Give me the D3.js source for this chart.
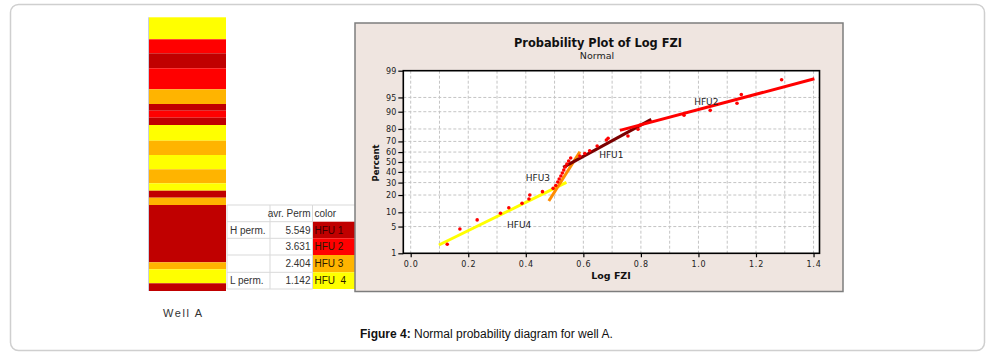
<!DOCTYPE html>
<html>
<head>
<meta charset="utf-8">
<script src="https://cdn.jsdelivr.net/npm/d3@7"></script>
<style>
  html, body { margin: 0; padding: 0; background: #fff; }
  svg { display: block; }
</style>
</head>
<body>
<svg id="chart" width="993" height="358"></svg>
<script>
// ---------------- DATA ----------------
// Well A column: HFU code of each band and band bottom depth (relative units)
const bandHFU    = [4, 2, 1, 2, 3, 1, 2, 1, 4, 3, 4, 3, 4, 1, 3, 1, 3, 4, 1];
const bandBottom = [22, 36, 51, 72, 86.7, 93.4, 100.4, 107.7, 123.4, 137.7, 152, 166, 173.4, 180.4, 187.7, 245, 252, 266, 273.7];

// Table
const tableHeader = ["", "avr. Perm", "color"];
const tableRowLabel = ["H perm.", "", "", "L perm."];
const tablePerm = ["5.549", "3.631", "2.404", "1.142"];
const tableHFU = ["HFU 1", "HFU 2", "HFU 3", "HFU  4"];

// Probability plot points (Log FZI, Percent)
const hfu4X = [0.127, 0.171, 0.231, 0.312, 0.341, 0.387, 0.411, 0.414, 0.458, 0.495];
const hfu4P = [1.8, 4.4, 7.0, 9.6, 12.2, 14.6, 17.3, 20.0, 22.5, 25.1];
const hfu3X = [0.504, 0.511, 0.516, 0.522, 0.527, 0.532, 0.537, 0.543, 0.549, 0.556];
const hfu3P = [27.5, 30.5, 33.2, 36.1, 39.0, 41.9, 44.9, 48.0, 51.0, 54.1];
const hfu1X = [0.588, 0.605, 0.622, 0.648, 0.680, 0.686, 0.755, 0.790, 0.796];
const hfu1P = [56.0, 58.5, 61.3, 65.8, 71.2, 72.7, 74.6, 79.8, 82.5];
const hfu2X = [0.950, 1.041, 1.134, 1.149, 1.289];
const hfu2P = [88.3, 90.6, 93.3, 95.7, 98.2];

// Fitted lines: [x0, x1], [p0, p1]
const lineNames = ["HFU4", "HFU3", "HFU1", "HFU2"];
const lineX = [[0.098, 0.541], [0.480, 0.588], [0.530, 0.836], [0.727, 1.403]];
const lineP = [[1.72, 30.2], [16.0, 60.3], [44.6, 86.1], [79.0, 98.3]];

// Labels of the fitted groups: [Log FZI, Percent]
const groupLabels = ["HFU2", "HFU1", "HFU3", "HFU4"];
const groupLabelX = [0.985, 0.655, 0.40, 0.335];
const groupLabelP = [92.7, 54.5, 31.0, 4.6];

// Axis ticks
const xTicks = [0.0, 0.2, 0.4, 0.6, 0.8, 1.0, 1.2, 1.4];
const xGrid = d3.range(0, 15).map(i => i / 10);
const pTicks = [1, 5, 10, 20, 30, 40, 50, 60, 70, 80, 90, 95, 99];
const pGrid = [5, 10, 20, 30, 40, 50, 60, 70, 80, 90, 95];

// ---------------- HELPERS ----------------
// inverse standard normal CDF (Acklam)
function probit(p) {
  const a = [-3.969683028665376e+01, 2.209460984245205e+02, -2.759285104469687e+02, 1.383577518672690e+02, -3.066479806614716e+01, 2.506628277459239e+00];
  const b = [-5.447609879822406e+01, 1.615858368580409e+02, -1.556989798598866e+02, 6.680131188771972e+01, -1.328068155288572e+01];
  const c = [-7.784894002430293e-03, -3.223964580411365e-01, -2.400758277161838e+00, -2.549732539343734e+00, 4.374664141464968e+00, 2.938163982698783e+00];
  const d = [7.784695709041462e-03, 3.224671290700398e-01, 2.445134137142996e+00, 3.754408661907416e+00];
  const pl = 0.02425, ph = 1 - pl;
  let q, r;
  if (p < pl) {
    q = Math.sqrt(-2 * Math.log(p));
    return (((((c[0]*q+c[1])*q+c[2])*q+c[3])*q+c[4])*q+c[5]) / ((((d[0]*q+d[1])*q+d[2])*q+d[3])*q+1);
  } else if (p <= ph) {
    q = p - 0.5; r = q * q;
    return (((((a[0]*r+a[1])*r+a[2])*r+a[3])*r+a[4])*r+a[5])*q / (((((b[0]*r+b[1])*r+b[2])*r+b[3])*r+b[4])*r+1);
  } else {
    q = Math.sqrt(-2 * Math.log(1 - p));
    return -(((((c[0]*q+c[1])*q+c[2])*q+c[3])*q+c[4])*q+c[5]) / ((((d[0]*q+d[1])*q+d[2])*q+d[3])*q+1);
  }
}

const svg = d3.select("#chart");

// outer frame
svg.append("rect").attr("x", 10.5).attr("y", 4.5).attr("width", 974).attr("height", 346)
  .attr("rx", 8).attr("fill", "#fff").attr("stroke", "#cfcfcf").attr("stroke-width", 1.5);

// ---------------- WELL COLUMN ----------------
const hfuColor = {1: "#c00000", 2: "#ff0000", 3: "#ffb400", 4: "#ffff00"};
const depth = d3.scaleLinear().domain([0, 273.7]).range([17.3, 291]);
const bandTop = [0].concat(bandBottom.slice(0, -1));
svg.append("g").selectAll("rect").data(bandHFU).join("rect")
  .attr("x", 149).attr("width", 77)
  .attr("y", (d, i) => depth(bandTop[i]))
  .attr("height", (d, i) => depth(bandBottom[i]) - depth(bandTop[i]))
  .attr("fill", d => hfuColor[d]);
svg.append("line").attr("x1", 148.5).attr("x2", 148.5).attr("y1", depth(0)).attr("y2", depth(273.7))
  .attr("stroke", "#c9cfe0").attr("stroke-width", 1);

svg.append("text").attr("x", 163).attr("y", 317)
  .attr("font-family", "Liberation Sans, Arial, sans-serif").attr("font-size", 11)
  .attr("letter-spacing", 1.6).attr("fill", "#333").text("Well A");

// ---------------- TABLE ----------------
const tbl = svg.append("g");
const colX = [227, 270, 312.5, 355];
const rowY = [205, 221.7, 238.3, 255, 272.3, 289];
tbl.append("rect").attr("x", colX[0]).attr("y", rowY[0]).attr("width", colX[3] - colX[0]).attr("height", rowY[5] - rowY[0]).attr("fill", "#fff");
tbl.selectAll("rect.c").data(tableHFU).join("rect").attr("class", "c")
  .attr("x", colX[2]).attr("y", (d, i) => rowY[i + 1])
  .attr("width", colX[3] - colX[2]).attr("height", (d, i) => rowY[i + 2] - rowY[i + 1])
  .attr("fill", (d, i) => hfuColor[i + 1]);
tbl.selectAll("line.h").data(rowY).join("line").attr("class", "h")
  .attr("x1", colX[0]).attr("x2", colX[2]).attr("y1", d => d).attr("y2", d => d)
  .attr("stroke", "#d9d9d9").attr("stroke-width", 1);
tbl.append("line").attr("x1", colX[2]).attr("x2", colX[3]).attr("y1", rowY[0]).attr("y2", rowY[0]).attr("stroke", "#d9d9d9");
tbl.selectAll("line.v").data(colX.slice(0, 3)).join("line").attr("class", "v")
  .attr("x1", d => d).attr("x2", d => d).attr("y1", rowY[0]).attr("y2", rowY[5])
  .attr("stroke", "#d9d9d9").attr("stroke-width", 1);
const tf = "Liberation Sans Narrow, Arial Narrow, Liberation Sans, sans-serif";
tbl.append("text").attr("x", colX[2] - 2).attr("y", rowY[0] + 12).attr("text-anchor", "end")
  .attr("font-family", tf).attr("font-size", 10).attr("fill", "#333").text(tableHeader[1]);
tbl.append("text").attr("x", colX[2] + 2).attr("y", rowY[0] + 12)
  .attr("font-family", tf).attr("font-size", 10).attr("fill", "#333").text(tableHeader[2]);
tbl.selectAll("text.l").data(tableRowLabel).join("text").attr("class", "l")
  .attr("x", colX[0] + 3).attr("y", (d, i) => rowY[i + 1] + 12)
  .attr("font-family", tf).attr("font-size", 10).attr("fill", "#333").text(d => d);
tbl.selectAll("text.p").data(tablePerm).join("text").attr("class", "p")
  .attr("x", colX[2] - 2).attr("y", (d, i) => rowY[i + 1] + 12).attr("text-anchor", "end")
  .attr("font-family", tf).attr("font-size", 10).attr("fill", "#333").text(d => d);
tbl.selectAll("text.f").data(tableHFU).join("text").attr("class", "f")
  .attr("x", colX[2] + 2).attr("y", (d, i) => rowY[i + 1] + 12)
  .attr("font-family", tf).attr("font-size", 10).attr("fill", (d, i) => i === 0 ? "#3a0000" : "#2a1a00")
  .attr("xml:space", "preserve").style("white-space", "pre").text(d => d);

// ---------------- PROBABILITY PLOT ----------------
svg.append("rect").attr("x", 355).attr("y", 23).attr("width", 488).attr("height", 268.5)
  .attr("fill", "#efe5e0").attr("stroke", "#7d7d7d").attr("stroke-width", 1.5);

const L = 403.3, R = 819.5, T = 70.7, B = 253.3;
const x = d3.scaleLinear().domain([-0.0257, 1.4207]).range([L, R]);
const z = d3.scaleLinear().domain([probit(0.01), probit(0.99)]).range([B, T]);
const y = p => z(probit(p / 100));

svg.append("rect").attr("x", L).attr("y", T).attr("width", R - L).attr("height", B - T).attr("fill", "#fff");

const grid = svg.append("g").attr("stroke", "#c4c4c4").attr("stroke-width", 1).attr("stroke-dasharray", "3,2");
grid.selectAll("line.gx").data(xGrid).join("line").attr("class", "gx")
  .attr("x1", d => x(d)).attr("x2", d => x(d)).attr("y1", T).attr("y2", B);
grid.selectAll("line.gy").data(pGrid).join("line").attr("class", "gy")
  .attr("x1", L).attr("x2", R).attr("y1", d => y(d)).attr("y2", d => y(d));

// fitted lines
const lineColors = ["#ffff00", "#ff8c00", "#7a0000", "#ff0000"];
svg.append("g").selectAll("line").data(lineNames).join("line")
  .attr("x1", (d, i) => x(lineX[i][0])).attr("x2", (d, i) => x(lineX[i][1]))
  .attr("y1", (d, i) => y(lineP[i][0])).attr("y2", (d, i) => y(lineP[i][1]))
  .attr("stroke", (d, i) => lineColors[i]).attr("stroke-width", 3);

// points
const ptsX = hfu4X.concat(hfu3X, hfu1X, hfu2X);
const ptsP = hfu4P.concat(hfu3P, hfu1P, hfu2P);
svg.append("g").selectAll("circle").data(ptsX).join("circle")
  .attr("cx", d => x(d)).attr("cy", (d, i) => y(ptsP[i])).attr("r", 1.8).attr("fill", "#ff0000");

// group labels
svg.append("g").selectAll("text").data(groupLabels).join("text")
  .attr("x", (d, i) => x(groupLabelX[i])).attr("y", (d, i) => y(groupLabelP[i]))
  .attr("font-family", "DejaVu Sans, sans-serif").attr("font-size", 9).attr("fill", "#222").text(d => d);

// axes
const axisFont = "DejaVu Sans, Verdana, sans-serif";
const gx = svg.append("g").attr("transform", `translate(0,${B})`)
  .call(d3.axisBottom(x).tickValues(xTicks).tickFormat(d3.format(".1f")).tickSize(4).tickSizeOuter(0));
const gy = svg.append("g").attr("transform", `translate(${L},0)`)
  .call(d3.axisLeft(z).tickValues(pTicks.map(p => probit(p / 100))).tickFormat((d, i) => pTicks[i]).tickSize(5).tickSizeOuter(0).tickPadding(2));
[gx, gy].forEach(g => {
  g.select(".domain").remove();
  g.selectAll(".tick line").attr("stroke", "#000").attr("stroke-width", 1.2);
  g.selectAll(".tick text").attr("font-family", axisFont).attr("font-size", 8).attr("fill", "#222");
});
gx.selectAll(".tick text").attr("letter-spacing", 0.8).attr("dy", "0.9em");

// plot border
svg.append("rect").attr("x", L).attr("y", T).attr("width", R - L).attr("height", B - T)
  .attr("fill", "none").attr("stroke", "#000").attr("stroke-width", 1.6);

// titles
svg.append("text").attr("x", 598).attr("y", 47).attr("text-anchor", "middle")
  .attr("font-family", axisFont).attr("font-weight", "bold").attr("font-size", 11.4).attr("fill", "#111")
  .text("Probability Plot of Log FZI");
svg.append("text").attr("x", 597).attr("y", 59).attr("text-anchor", "middle")
  .attr("font-family", axisFont).attr("font-size", 9.5).attr("fill", "#222").text("Normal");
svg.append("text").attr("x", 611).attr("y", 279).attr("text-anchor", "middle")
  .attr("font-family", axisFont).attr("font-weight", "bold").attr("font-size", 9.5).attr("fill", "#111").text("Log FZI");
svg.append("text").attr("transform", "translate(379,163) rotate(-90)").attr("text-anchor", "middle")
  .attr("font-family", axisFont).attr("font-weight", "bold").attr("font-size", 8.5).attr("fill", "#111").text("Percent");

// caption
const cap = svg.append("text").attr("x", 360).attr("y", 338)
  .attr("font-family", "Liberation Sans, Arial, sans-serif").attr("font-size", 12).attr("fill", "#111");
cap.append("tspan").attr("font-weight", "bold").text("Figure 4:");
cap.append("tspan").text(" Normal probability diagram for well A.");
</script>
</body>
</html>
